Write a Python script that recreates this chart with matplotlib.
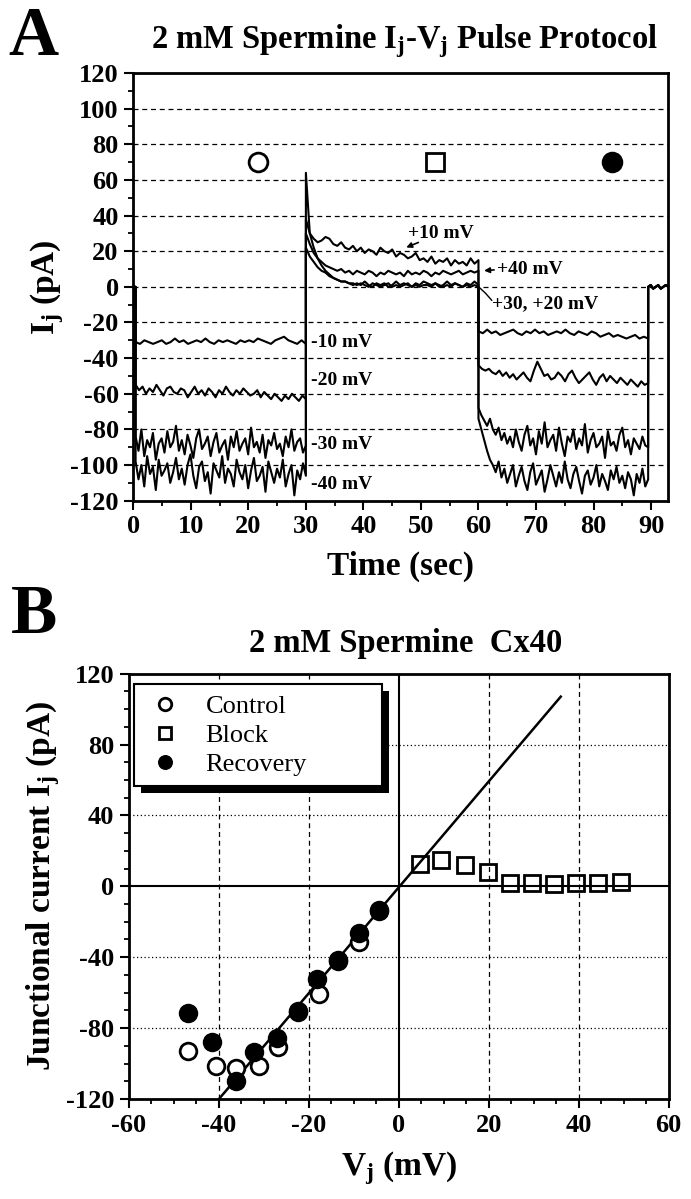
import numpy as np
import matplotlib.pyplot as plt
from matplotlib.ticker import MultipleLocator
from matplotlib.patches import Rectangle

plt.rcParams['font.family'] = 'Liberation Serif'
plt.rcParams['font.weight'] = 'bold'
plt.rcParams['axes.labelweight'] = 'bold'
plt.rcParams['axes.unicode_minus'] = False
plt.rcParams['mathtext.fontset'] = 'custom'
plt.rcParams['mathtext.rm'] = 'Liberation Serif:bold'
plt.rcParams['mathtext.it'] = 'Liberation Serif:bold'
plt.rcParams['mathtext.bf'] = 'Liberation Serif:bold'

# ---------------- panel A data ----------------
# pulse timing in seconds
t_on, t_switch, t_back, t_off, t_end = 0.4, 30.0, 60.0, 89.5, 93.0

hold_start = [0, 0]
hold_end = [0, 1, -1, 0, 1, -1, 0, 1, 0]

# sweep 1: -10 / +10 / -10 mV
ctrl_10 = [-31, -32, -30, -31, -32, -31, -30, -32, -31, -29, -31, -30, -32, -31, -30, -31, -29, -31, -32, -30,
           -31, -30, -31, -32, -30, -31, -30, -31, -29, -30, -31, -32, -30, -29, -28, -30, -31, -32, -30, -32]
blk_10 = [38, 30, 27, 25, 26, 28, 27, 24, 23, 25, 22, 21, 23, 20, 22, 19, 21, 20, 18, 22, 20, 19, 21, 17, 19,
          18, 16, 17, 19, 15, 16, 14, 17, 13, 15, 14, 16, 12, 15, 13, 14, 12, 16, 13, 15]
rec_10 = [-25, -26, -24, -26, -25, -27, -26, -25, -24, -26, -27, -25, -26, -24, -26, -25, -27, -26, -25, -26,
          -24, -26, -27, -25, -26, -27, -25, -26, -28, -27, -26, -28, -27, -28, -29, -28, -27, -29, -28, -29]

# sweep 2: -20 / +20 / -20 mV
ctrl_20 = [-55, -58, -56, -60, -57, -59, -55, -58, -61, -57, -56, -59, -60, -57, -58, -62, -59, -56, -60, -58,
           -61, -57, -59, -62, -58, -60, -56, -59, -61, -58, -60, -57, -59, -61, -60, -58, -62, -59, -61, -63,
           -60, -62, -64, -61, -63, -60, -62, -64, -61, -63]
blk_20 = [22, 17, 14, 11, 9, 8, 6, 5, 4, 3, 3, 2, 2, 1, 2, 1, 0, 2, 1, 0, 1, 2, 0, 1, 0, 1, 2, 0, 1, 0,
          1, 1, 0, 2, 1, 0, 1, 0, 2, 1, 0, 1, 0, 1, 0]
rec_20 = [-44, -46, -47, -46, -48, -49, -47, -50, -48, -51, -49, -52, -50, -48, -51, -53, -47, -42, -46, -50,
          -49, -52, -51, -48, -50, -53, -49, -47, -51, -54, -52, -50, -48, -52, -55, -51, -49, -53, -50, -52,
          -54, -51, -53, -55, -52, -54, -56, -53, -55, -54]

# sweep 3: -30 / +30 / -30 mV
ctrl_30 = [-84, -92, -80, -95, -86, -90, -82, -97, -88, -85, -93, -81, -90, -87, -78, -92, -86, -94, -83, -89,
           -96, -85, -80, -91, -88, -84, -95, -87, -82, -93, -89, -86, -97, -84, -90, -81, -92, -88, -85, -94,
           -79, -90, -87, -93, -83, -96, -86, -89, -82, -91, -88, -95, -84, -90, -80, -92, -87, -85, -93, -89]
blk_30 = [64, 30, 22, 16, 12, 9, 7, 5, 4, 3, 3, 2, 1, 2, 1, 3, 1, 0, 2, 1, 2, 0, 1, 3, 1, 2, 1, 0, 2, 1,
          3, 2, 1, 2, 0, 1, 3, 1, 2, 1, 0, 2, 1, 3, 1]
rec_30 = [-68, -72, -75, -78, -74, -80, -83, -79, -86, -82, -88, -84, -90, -80, -87, -92, -83, -78, -89, -85,
          -94, -81, -88, -76, -90, -86, -83, -92, -79, -88, -95, -84, -87, -80, -91, -85, -89, -77, -93, -86,
          -82, -90, -88, -84, -96, -81, -89, -87, -92, -83, -79, -90, -86, -94, -85, -88, -91, -84, -89, -90]

# sweep 4: -40 / +40 / -40 mV
ctrl_40 = [-98, -108, -100, -112, -95, -105, -101, -114, -97, -106, -103, -99, -110, -104, -96, -108, -102,
           -111, -100, -94, -106, -113, -101, -98, -109, -104, -116, -99, -103, -107, -95, -110, -102, -105,
           -112, -97, -104, -108, -100, -113, -103, -96, -109, -106, -101, -115, -98, -104, -110, -102, -107,
           -97, -112, -105, -100, -117, -103, -108, -99, -106]
blk_40 = [30, 24, 19, 16, 14, 12, 11, 10, 9, 10, 8, 9, 7, 9, 8, 7, 9, 8, 6, 8, 7, 9, 8, 7, 8, 6, 9, 7, 8, 7,
          9, 8, 6, 8, 7, 9, 8, 7, 8, 9, 7, 8, 9, 8, 9]
rec_40 = [-74, -80, -86, -92, -97, -100, -104, -98, -107, -102, -110, -105, -100, -112, -106, -101, -109, -114,
          -104, -99, -111, -107, -103, -115, -108, -100, -106, -112, -104, -110, -98, -108, -113, -105, -101,
          -109, -116, -106, -103, -111, -107, -100, -112, -105, -109, -114, -103, -108, -101, -110, -106, -113,
          -104, -108, -117, -105, -110, -102, -112, -108]

sweeps = [(ctrl_10, blk_10, rec_10), (ctrl_20, blk_20, rec_20),
          (ctrl_30, blk_30, rec_30), (ctrl_40, blk_40, rec_40)]

# condition symbols above the traces
symbol_t = [21.7, 52.5, 83.2]
symbol_y = [70, 70, 70]

# ---------------- panel B data ----------------
vj_ctrl = [-46.9, -40.7, -36.1, -31.2, -26.8, -22.4, -17.8, -13.6, -8.8, -4.4]
ij_ctrl = [-92.8, -101.3, -102.3, -101.3, -90.4, -70.5, -60.8, -41.5, -31.5, -13.5]
vj_blk = [4.6, 9.4, 14.7, 19.8, 24.8, 29.7, 34.6, 39.4, 44.3, 49.3]
ij_blk = [12.5, 14.7, 11.9, 8.1, 1.9, 2.1, 1.5, 1.9, 2.1, 2.5]
vj_rec = [-46.9, -41.6, -36.1, -32.1, -27.0, -22.4, -18.1, -13.6, -8.8, -4.4]
ij_rec = [-71.7, -87.7, -109.8, -93.4, -85.8, -71.0, -52.5, -41.9, -26.4, -14.2]
fit_vj = [-40, 36]
fit_ij = [-120, 107]

fig = plt.figure(figsize=(6.91, 11.99), dpi=100)


def style_axes(ax):
    for s in ax.spines.values():
        s.set_linewidth(2)
    ax.tick_params(which='major', direction='out', length=6.5, width=1.5, labelsize=19, pad=4)
    ax.tick_params(which='minor', direction='out', length=3.5, width=1.3)


# ================= A =================
axA = fig.add_axes([133.3 / 691, 1 - 500.7 / 1199, 535 / 691, 427.7 / 1199])
for ctrl, blk, rec in sweeps:
    t = np.concatenate([np.linspace(0, t_on, len(hold_start)),
                        np.linspace(t_on, t_switch, len(ctrl)),
                        np.linspace(t_switch, t_back, len(blk)),
                        np.linspace(t_back, t_off, len(rec)),
                        np.linspace(t_off, t_end, len(hold_end))])
    i = np.concatenate([hold_start, ctrl, blk, rec, hold_end])
    axA.plot(t, i, color='black', lw=1.5)

axA.plot(symbol_t[0], symbol_y[0], 'o', ms=13.5, mfc='white', mec='black', mew=2)
axA.plot(symbol_t[1], symbol_y[1], 's', ms=12.5, mfc='white', mec='black', mew=2)
axA.plot(symbol_t[2], symbol_y[2], 'o', ms=13.5, mfc='black', mec='black', mew=2)

axA.set_xlim(0, 93)
axA.set_ylim(-120, 120)
axA.xaxis.set_major_locator(MultipleLocator(10))
axA.xaxis.set_minor_locator(MultipleLocator(5))
axA.yaxis.set_major_locator(MultipleLocator(20))
axA.yaxis.set_minor_locator(MultipleLocator(10))
axA.yaxis.grid(True, linestyle=(0, (4, 3)), color='black', lw=0.9)
style_axes(axA)
axA.set_xlabel('Time (sec)', fontsize=24, labelpad=9)
axA.set_ylabel('I$_\\mathrm{j}$ (pA)', fontsize=24)
axA.yaxis.set_label_coords(-0.125, 0.5)

lab = dict(fontsize=14, va='center')
axA.text(30.9, -31.2, '-10 mV', **lab)
axA.text(30.9, -52.7, '-20 mV', **lab)
axA.text(30.9, -88.2, '-30 mV', **lab)
axA.text(30.9, -110.7, '-40 mV', **lab)
axA.text(47.7, 29.7, '+10 mV', **lab)
axA.annotate('', xy=(47.0, 21.5), xytext=(50.0, 25.5),
             arrowprops=dict(arrowstyle='-|>', color='black', lw=1.2, mutation_scale=8))
axA.text(63.3, 10, '+40 mV', **lab)
axA.annotate('', xy=(60.5, 9), xytext=(63.2, 9.6),
             arrowprops=dict(arrowstyle='-|>', color='black', lw=1.2, mutation_scale=8))
axA.text(62.4, -9.5, '+30, +20 mV', **lab)
axA.plot([60.2, 61.2, 62.3], [-0.5, -3.5, -7.5], color='black', lw=1.0)

fig.text(0.012, 0.954, 'A', fontsize=50, ha='left', va='baseline')
fig.text(0.585, 0.960, '2 mM Spermine I$_\\mathrm{j}$-V$_\\mathrm{j}$ Pulse Protocol',
         fontsize=23.5, ha='center', va='baseline')

# ================= B =================
axB = fig.add_axes([129 / 691, 0.0834, 539.7 / 691, 425.4 / 1199])
axB.set_xlim(-60, 60)
axB.set_ylim(-120, 120)
for v in [-40, -20, 20, 40]:
    axB.axvline(v, color='black', lw=0.9, ls=(0, (4, 3)), zorder=1)
for v in [-80, -40, 40, 80]:
    axB.axhline(v, color='black', lw=0.9, ls=(0, (1, 2)), zorder=1)
axB.axvline(0, color='black', lw=1.5, zorder=1)
axB.axhline(0, color='black', lw=1.5, zorder=1)

axB.plot(fit_vj, fit_ij, color='black', lw=1.8, zorder=2)
axB.plot(vj_ctrl, ij_ctrl, 'o', ms=12, mfc='white', mec='black', mew=2, label='Control', zorder=3)
axB.plot(vj_blk, ij_blk, 's', ms=11, mfc='none', mec='black', mew=2, label='Block', zorder=3)
axB.plot(vj_rec, ij_rec, 'o', ms=13, mfc='black', mec='black', mew=1, label='Recovery', zorder=4)

axB.xaxis.set_major_locator(MultipleLocator(20))
axB.xaxis.set_minor_locator(MultipleLocator(5))
axB.yaxis.set_major_locator(MultipleLocator(40))
axB.yaxis.set_minor_locator(MultipleLocator(10))
style_axes(axB)
axB.set_xlabel('V$_\\mathrm{j}$ (mV)', fontsize=24, labelpad=9)
axB.set_ylabel('Junctional current I$_\\mathrm{j}$ (pA)', fontsize=24)
axB.yaxis.set_label_coords(-0.125, 0.5)

leg = axB.legend(loc='upper left', bbox_to_anchor=(0.0098, 0.0, 0.4584, 0.9749), mode='expand',
                 borderaxespad=0, frameon=True, fancybox=False, framealpha=1, edgecolor='black',
                 prop={'weight': 'normal', 'size': 19}, markerscale=0.75, handlelength=1.5,
                 handletextpad=0.8, borderpad=0.4, labelspacing=0.2)
leg.get_frame().set_linewidth(1.5)
leg.set_zorder(6)

fig.text(0.016, 0.472, 'B', fontsize=50, ha='left', va='baseline')
fig.text(0.5876, 0.4562, '2 mM Spermine  Cx40', fontsize=23.5, ha='center', va='baseline')

# drop shadow behind the legend
fig.canvas.draw()
bb = leg.get_frame().get_window_extent().transformed(axB.transAxes.inverted())
dx = 7 / 539.7
dy = 7 / 425.4
axB.add_patch(Rectangle((bb.x0 + dx, bb.y0 - dy), bb.width, bb.height, transform=axB.transAxes,
                        facecolor='black', edgecolor='none', zorder=5, clip_on=False))

fig.savefig('out.png', dpi=100)
